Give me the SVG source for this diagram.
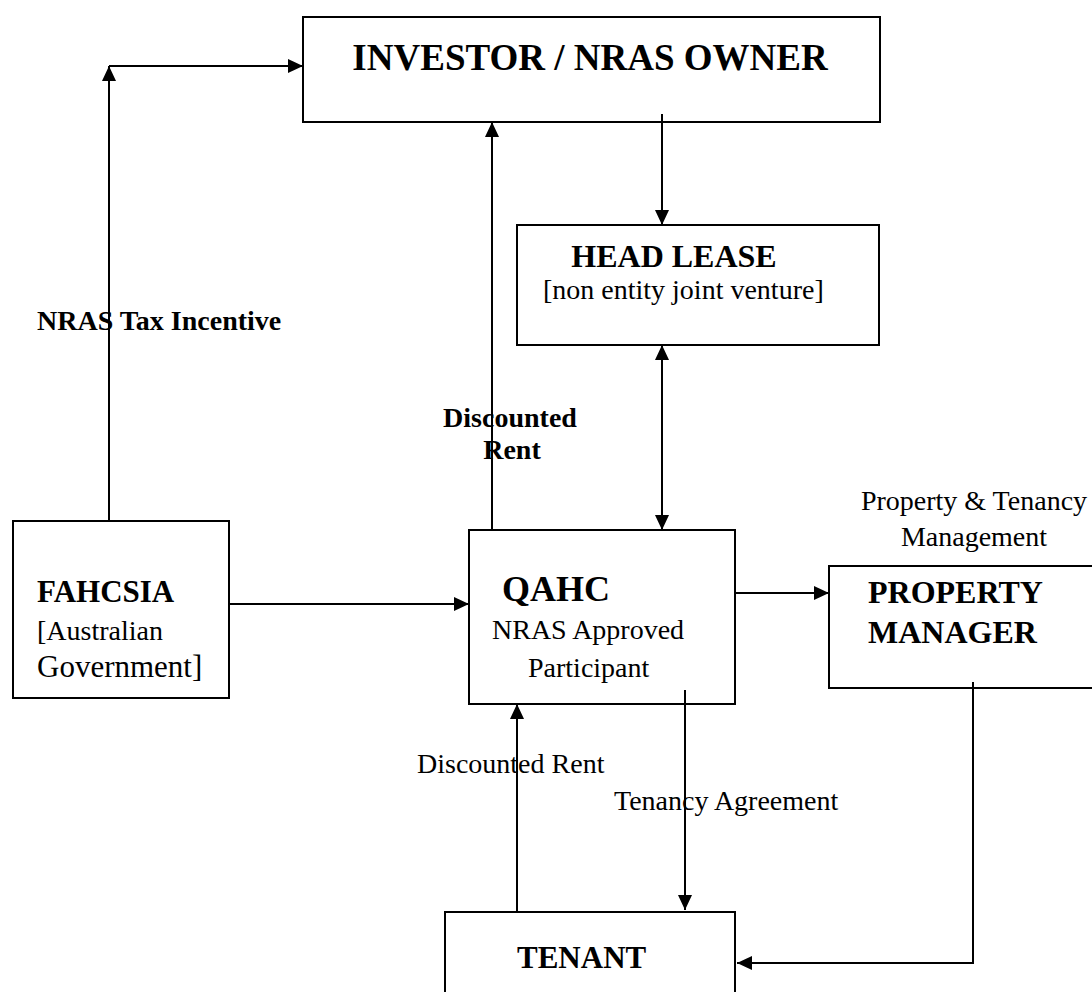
<svg xmlns="http://www.w3.org/2000/svg" width="1092" height="992" viewBox="0 0 1092 992">
<style>
.box{fill:#fff;stroke:#000;stroke-width:2}
.ln{fill:none;stroke:#000;stroke-width:2}
.b{font-family:"Liberation Serif","Times New Roman",serif;font-weight:bold;fill:#000}
.r{font-family:"Liberation Serif","Times New Roman",serif;fill:#000}
</style>
<defs>
<marker id="ah" markerUnits="userSpaceOnUse" markerWidth="16" markerHeight="14" refX="15" refY="7" orient="auto-start-reverse">
<path d="M0,0 L15,7 L0,14 z" fill="#000"/>
</marker>
</defs>
<g id="investor">
<rect class="box" x="303" y="17" width="577" height="105"/>
<text class="b" x="590" y="70" font-size="37" text-anchor="middle">INVESTOR / NRAS OWNER</text>
</g>
<g id="headlease">
<rect class="box" x="517" y="225" width="362" height="120"/>
<text class="b" x="674" y="267" font-size="32" text-anchor="middle">HEAD LEASE</text>
<text class="r" x="543" y="299" font-size="28">[non entity joint venture]</text>
</g>
<g id="fahcsia">
<rect class="box" x="13" y="521" width="216" height="177"/>
<text class="b" x="37" y="602" font-size="31">FAHCSIA</text>
<text class="r" x="37" y="640" font-size="28">[Australian</text>
<text class="r" x="37" y="677" font-size="31">Government]</text>
</g>
<g id="qahc">
<rect class="box" x="469" y="530" width="266" height="174"/>
<text class="b" x="502" y="601" font-size="36">QAHC</text>
<text class="r" x="492" y="639" font-size="28">NRAS Approved</text>
<text class="r" x="528" y="677" font-size="28">Participant</text>
</g>
<g id="propertymanager">
<rect class="box" x="829" y="566" width="280" height="122"/>
<text class="b" x="868" y="603" font-size="32">PROPERTY</text>
<text class="b" x="868" y="643" font-size="32">MANAGER</text>
</g>
<g id="tenant">
<rect class="box" x="445" y="912" width="290" height="100"/>
<text class="b" x="517" y="968" font-size="31">TENANT</text>
</g>
<g id="labels">
<text class="b" x="37" y="330" font-size="28">NRAS Tax Incentive</text>
<text class="b" x="510" y="427" font-size="28" text-anchor="middle">Discounted</text>
<text class="b" x="512" y="459" font-size="28" text-anchor="middle">Rent</text>
<text class="r" x="974" y="510" font-size="28" text-anchor="middle">Property &amp; Tenancy</text>
<text class="r" x="974" y="546" font-size="28" text-anchor="middle">Management</text>
<text class="r" x="417" y="773" font-size="28">Discounted Rent</text>
<text class="r" x="614" y="810" font-size="28">Tenancy Agreement</text>
</g>
<g id="connectors">
<path class="ln" d="M109,521 V66" marker-end="url(#ah)"/>
<path class="ln" d="M109,66 H303" marker-end="url(#ah)"/>
<path class="ln" d="M492,530 V122" marker-end="url(#ah)"/>
<path class="ln" d="M662,114 V225" marker-end="url(#ah)"/>
<path class="ln" d="M662,345 V530" marker-start="url(#ah)" marker-end="url(#ah)"/>
<path class="ln" d="M229,604 H469" marker-end="url(#ah)"/>
<path class="ln" d="M735,593 H829" marker-end="url(#ah)"/>
<path class="ln" d="M517,911 V704" marker-end="url(#ah)"/>
<path class="ln" d="M685,690 V910" marker-end="url(#ah)"/>
<path class="ln" d="M973,682 V963 H737" marker-end="url(#ah)"/>
</g>
</svg>
